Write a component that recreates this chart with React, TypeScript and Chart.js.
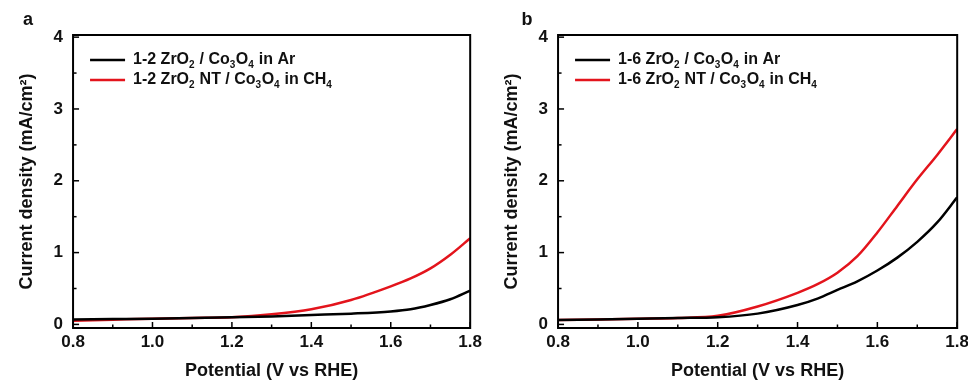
import React, { useEffect, useRef } from "react";
import { Chart, registerables } from "chart.js";

Chart.register(...registerables);

// ---- data ----
const potentialA = [0.8, 0.9, 1.0, 1.1, 1.2, 1.3, 1.4, 1.5, 1.6, 1.65, 1.7, 1.75, 1.8];
const arA = [0.07, 0.075, 0.08, 0.09, 0.1, 0.11, 0.13, 0.15, 0.18, 0.21, 0.27, 0.35, 0.47];
const ch4A = [0.05, 0.065, 0.08, 0.09, 0.1, 0.14, 0.21, 0.34, 0.53, 0.64, 0.78, 0.97, 1.2];

const potentialB = [0.8, 0.9, 1.0, 1.1, 1.2, 1.3, 1.4, 1.45, 1.5, 1.55, 1.6, 1.65, 1.7, 1.75, 1.8];
const arB = [0.06, 0.07, 0.08, 0.09, 0.1, 0.15, 0.27, 0.36, 0.48, 0.6, 0.75, 0.93, 1.15, 1.42, 1.77];
const ch4B = [0.06, 0.07, 0.08, 0.09, 0.12, 0.25, 0.44, 0.56, 0.72, 0.95, 1.28, 1.65, 2.02, 2.36, 2.72];

const xTicks = [0.8, 1.0, 1.2, 1.4, 1.6, 1.8];
const yTicks = [0, 1, 2, 3, 4];

// legend pieces: [text, isSubscript]
const legendA1: [string, boolean][] = [["1-2 ZrO", false], ["2", true], [" / Co", false], ["3", true], ["O", false], ["4", true], [" in Ar", false]];
const legendA2: [string, boolean][] = [["1-2 ZrO", false], ["2", true], [" NT / Co", false], ["3", true], ["O", false], ["4", true], [" in CH", false], ["4", true]];
const legendB1: [string, boolean][] = [["1-6 ZrO", false], ["2", true], [" / Co", false], ["3", true], ["O", false], ["4", true], [" in Ar", false]];
const legendB2: [string, boolean][] = [["1-6 ZrO", false], ["2", true], [" NT / Co", false], ["3", true], ["O", false], ["4", true], [" in CH", false], ["4", true]];

const BLACK = "#000000";
const RED = "#e3141c";
const FONT = "'Liberation Sans', Arial, sans-serif";

const framePlugin = {
  id: "frameTicks",
  afterDraw(chart: any, _args: any, opts: any) {
    const { ctx, chartArea } = chart;
    const { left, right, top, bottom } = chartArea;
    const xs = chart.scales.x;
    const ys = chart.scales.y;
    ctx.save();
    ctx.strokeStyle = "#000";
    ctx.lineWidth = 2;
    ctx.strokeRect(left, top, right - left, bottom - top);
    // x ticks inward
    ctx.lineWidth = 1.5;
    for (let i = 0; i <= 10; i++) {
      const v = 0.8 + i * 0.1;
      const px = xs.getPixelForValue(v);
      const len = i % 2 === 0 ? 6 : 3.5;
      ctx.beginPath();
      ctx.moveTo(px, bottom);
      ctx.lineTo(px, bottom - len);
      ctx.stroke();
    }
    for (let i = 0; i <= 8; i++) {
      const v = i * 0.5;
      const py = ys.getPixelForValue(v);
      const len = i % 2 === 0 ? 6 : 3.5;
      ctx.beginPath();
      ctx.moveTo(left, py);
      ctx.lineTo(left + len, py);
      ctx.stroke();
    }
    // legend
    const items = opts.items as { color: string; pieces: [string, boolean][] }[];
    items.forEach((it, idx) => {
      const y = top + 25 + idx * 20;
      ctx.strokeStyle = it.color;
      ctx.lineWidth = 2.5;
      ctx.beginPath();
      ctx.moveTo(left + 17, y);
      ctx.lineTo(left + 52, y);
      ctx.stroke();
      let x = left + 60;
      ctx.fillStyle = "#111";
      ctx.textBaseline = "middle";
      ctx.textAlign = "left";
      for (const [t, sub] of it.pieces) {
        ctx.font = sub ? `bold 10px ${FONT}` : `bold 16px ${FONT}`;
        ctx.fillText(t, x, sub ? y + 5 : y);
        x += ctx.measureText(t).width + (sub ? 0.5 : 0);
      }
    });
    // panel label
    ctx.fillStyle = "#111";
    ctx.font = `bold 18px ${FONT}`;
    ctx.textAlign = "center";
    ctx.textBaseline = "middle";
    ctx.fillText(opts.panel, opts.panelX, 20);
    ctx.restore();
  },
};

function makeData(xs: number[], ys: number[]) {
  return xs.map((x, i) => ({ x, y: ys[i] }));
}

function Panel(props: { xs: number[]; black: number[]; red: number[]; l1: [string, boolean][]; l2: [string, boolean][]; panel: string; panelX: number; left: number; width: number }) {
  const ref = useRef<HTMLCanvasElement>(null);
  useEffect(() => {
    const chart = new Chart(ref.current!, {
      type: "line",
      data: {
        datasets: [
          {
            data: makeData(props.xs, props.black),
            borderColor: BLACK,
            borderWidth: 2.5,
            pointRadius: 0,
            cubicInterpolationMode: "monotone",
          },
          {
            data: makeData(props.xs, props.red),
            borderColor: RED,
            borderWidth: 2.5,
            pointRadius: 0,
            cubicInterpolationMode: "monotone",
          },
        ],
      },
      options: {
        animation: false,
        responsive: false,
        layout: { padding: { left: 16, right: 10, top: 35, bottom: 5 } },
        plugins: {
          legend: { display: false },
          tooltip: { enabled: false },
          frameTicks: { items: [{ color: BLACK, pieces: props.l1 }, { color: RED, pieces: props.l2 }], panel: props.panel, panelX: props.panelX },
        } as any,
        scales: {
          x: {
            type: "linear",
            min: 0.8,
            max: 1.8,
            afterBuildTicks: (s: any) => {
              s.ticks = xTicks.map((v) => ({ value: v }));
            },
            ticks: {
              callback: (v: any) => Number(v).toFixed(1),
              font: { family: FONT, size: 17, weight: "bold" },
              color: "#111",
              padding: 4,
              maxRotation: 0,
            },
            grid: { display: false, drawTicks: false },
            border: { display: false },
            title: {
              display: true,
              text: "Potential (V vs RHE)",
              font: { family: FONT, size: 18, weight: "bold" },
              color: "#111",
              padding: { top: 4, bottom: 0 },
            },
          },
          y: {
            type: "linear",
            min: -0.05,
            max: 4.03,
            afterBuildTicks: (s: any) => {
              s.ticks = yTicks.map((v) => ({ value: v }));
            },
            ticks: {
              font: { family: FONT, size: 17, weight: "bold" },
              color: "#111",
              padding: 10,
            },
            grid: { display: false, drawTicks: false },
            border: { display: false },
            title: {
              display: true,
              text: "Current density (mA/cm²)",
              font: { family: FONT, size: 18, weight: "bold" },
              color: "#111",
              padding: { top: 0, bottom: 6 },
            },
          },
        },
      },
      plugins: [framePlugin],
    });
    return () => chart.destroy();
  }, []);
  return (
    <canvas
      ref={ref}
      width={props.width}
      height={387}
      style={{ position: "absolute", left: props.left, top: 0, width: props.width, height: 387 }}
    />
  );
}

export default function App() {
  return (
    <div style={{ position: "fixed", left: 0, top: 0, width: 968, height: 387, background: "#fff", overflow: "hidden" }}>
      <Panel xs={potentialA} black={arA} red={ch4A} l1={legendA1} l2={legendA2} panel="a" panelX={28} left={0} width={486} />
      <Panel xs={potentialB} black={arB} red={ch4B} l1={legendB1} l2={legendB2} panel="b" panelX={42} left={485} width={488} />
    </div>
  );
}
